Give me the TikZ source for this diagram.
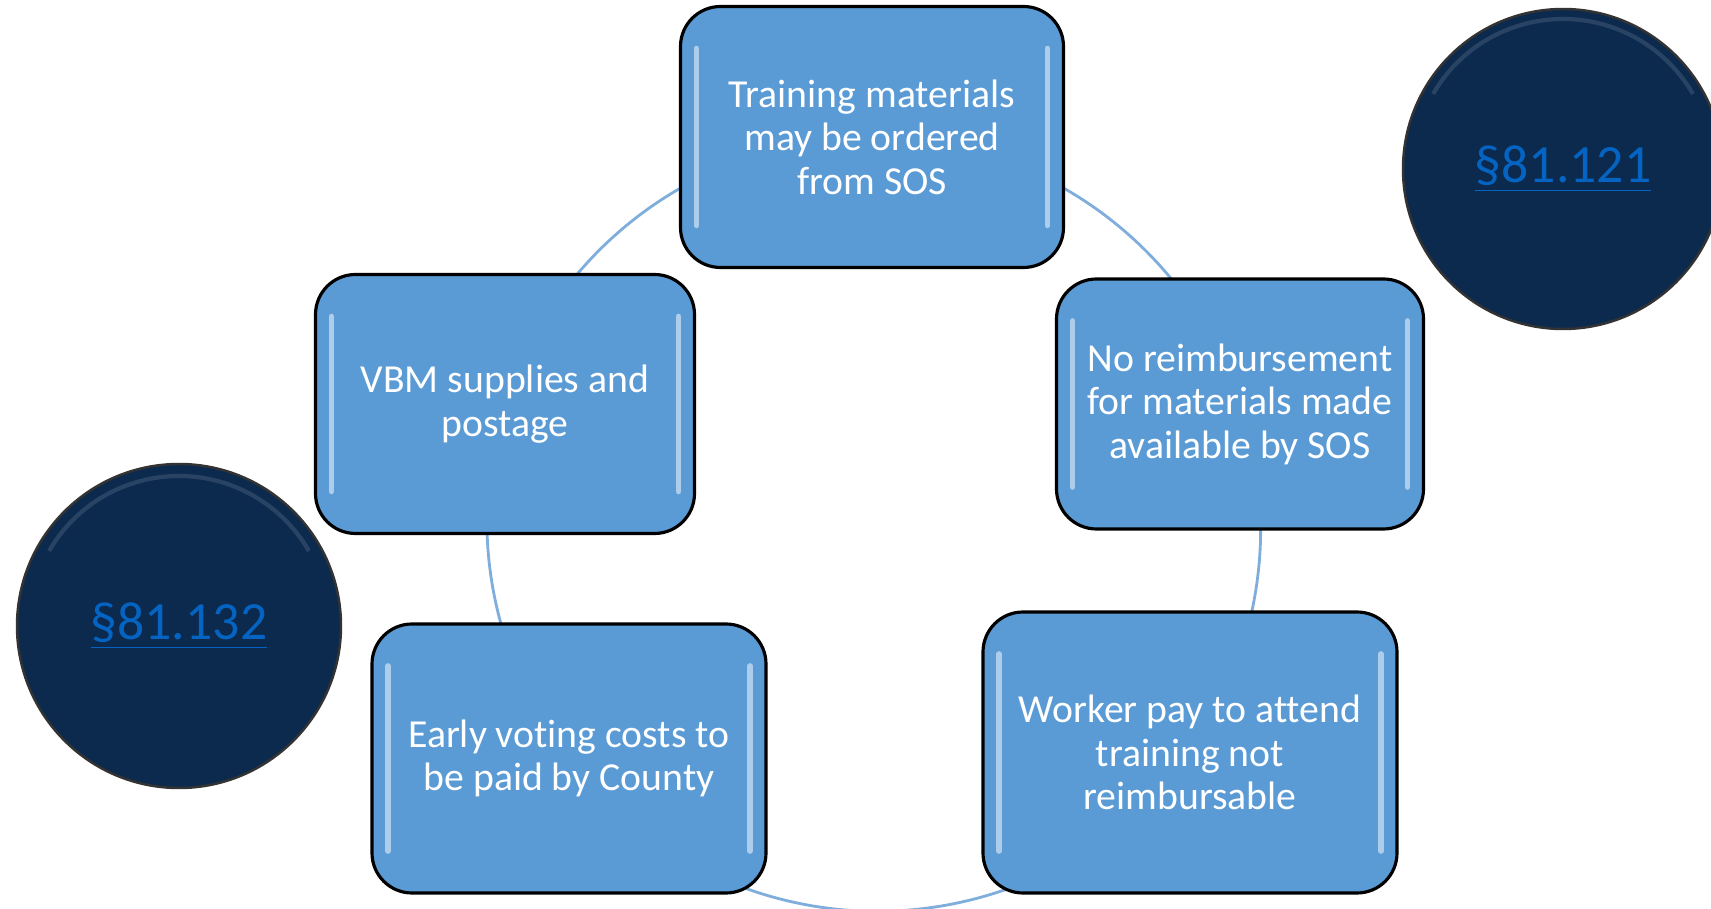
\documentclass[tikz,border=0pt]{standalone}
\usepackage{fontspec}
\setmainfont{Carlito}[Ligatures=NoCommon]
\usepackage{xcolor}
\usepackage{tikz}
\usetikzlibrary{backgrounds}

\definecolor{boxblue}{HTML}{5B9BD5}
\definecolor{navy}{HTML}{0B2A4E}
\definecolor{linkblue}{HTML}{0563C1}
\definecolor{ringblue}{HTML}{7FAEDC}

\begin{document}
\begin{tikzpicture}[
        block/.style={rectangle, draw=black, line width=0.9pt, fill=boxblue, rounded corners=0.4cm,
            text=white, align=center, inner sep=0pt, font=\fontsize{11.3}{12.4}\selectfont,
            path picture={
                \draw[white, opacity=0.5, line width=1.6pt, line cap=round]
                    ([shift={(0.16,-0.42)}]path picture bounding box.north west) --
                    ([shift={(0.16,0.42)}]path picture bounding box.south west);
                \draw[white, opacity=0.5, line width=1.6pt, line cap=round]
                    ([shift={(-0.16,-0.42)}]path picture bounding box.north east) --
                    ([shift={(-0.16,0.42)}]path picture bounding box.south east);
            }},
        sect/.style={circle, fill=navy, draw=black!80, line width=0.7pt, minimum size=3.2cm,
            text=linkblue, font=\fontsize{15.3}{18}\selectfont,
            path picture={
                \draw[white, opacity=0.12, line width=1.2pt]
                    ([shift={(150:1.5)}]path picture bounding box.center) arc[start angle=150, end angle=30, radius=1.5];
            }},
        line/.style={draw=ringblue, line width=0.8pt}
    ]
        \useasboundingbox (0,0) rectangle (17.11,9.09);

        % five steps round the ring
        \node [block, minimum width=3.83cm, minimum height=2.61cm] (training) at (8.72,7.72) {Training materials\\may be ordered\\from SOS};
        \node [block, minimum width=3.67cm, minimum height=2.50cm] (noreimb) at (12.40,5.05) {No reimbursement\\for materials made\\available by SOS};
        \node [block, minimum width=4.14cm, minimum height=2.81cm] (workerpay) at (11.90,1.565) {Worker pay to attend\\training not\\reimbursable};
        \node [block, minimum width=3.94cm, minimum height=2.69cm] (earlyvote) at (5.69,1.505) {Early voting costs to\\be paid by County};
        \node [block, minimum width=3.79cm, minimum height=2.59cm] (vbm) at (5.05,5.05) {VBM supplies and\\postage};

        % code sections
        \node [sect] (sec121) at (15.63,7.40) {\underline{§81.121}};
        \node [sect, minimum size=3.24cm] (sec132) at (1.79,2.83) {\underline{§81.132}};

        \begin{scope}[on background layer]
            \path [line] (training.center) to[bend left=36, looseness=0.94] (noreimb.center);
            \path [line] (noreimb.center) to[bend left=27, looseness=0.9] (workerpay.center);
            \path [line] (workerpay.center) to[bend left=53, looseness=1.07] (earlyvote.center);
            \path [line] (earlyvote.center) to[bend left=28, looseness=0.9] (vbm.center);
            \path [line] (vbm.center) to[bend left=36, looseness=0.94] (training.center);
        \end{scope}
    \end{tikzpicture}
\end{document}
